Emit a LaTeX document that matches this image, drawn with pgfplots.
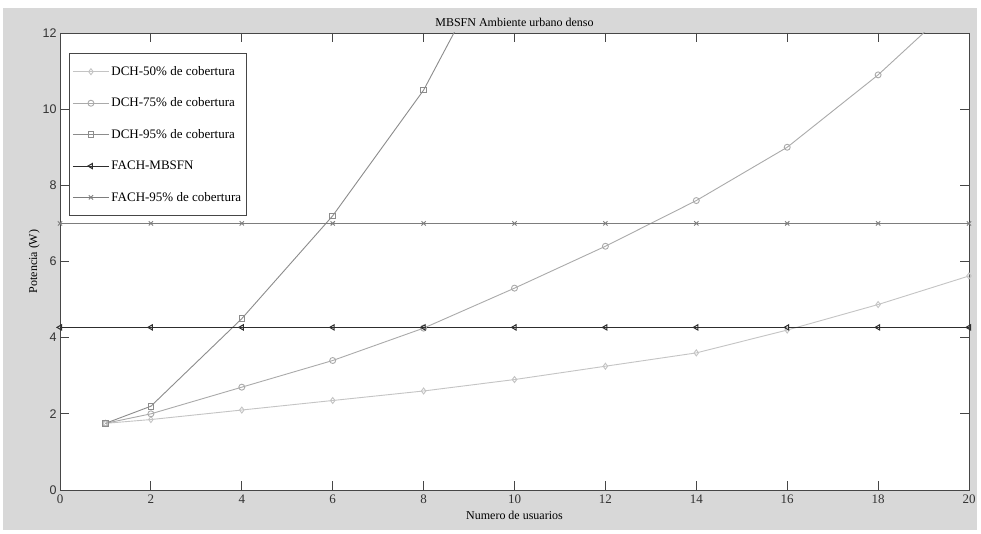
\documentclass[border=0pt]{standalone}
\usepackage{pgfplots}
\pgfplotsset{compat=1.18}
\usepackage{fontspec}
\setmainfont{Liberation Serif}
\newfontfamily\ticksans{Liberation Sans}
\definecolor{bggray}{RGB}{216,216,216}
\definecolor{cA}{RGB}{196,196,196}
\definecolor{cB}{RGB}{170,170,170}
\definecolor{cC}{RGB}{140,140,140}
\definecolor{cD}{RGB}{45,45,45}
\definecolor{cE}{RGB}{125,125,125}
\definecolor{axc}{RGB}{70,70,70}
\begin{document}
\begin{tikzpicture}[x=1pt,y=1pt]
\path[use as bounding box] (0,0) rectangle (981,534);
\fill[bggray] (3,4) rectangle (977,526);
\begin{axis}[
  at={(60pt,44pt)}, anchor=south west,
  scale only axis, width=909pt, height=457pt,
  xmin=0, xmax=20, ymin=0, ymax=12,
  xtick={0,2,...,20}, ytick={0,2,...,12},
  tick align=inside, major tick length=9pt,
  axis line style={axc, line width=0.9pt},
  tick style={axc, line width=0.9pt},
  every x tick label/.append style={font=\fontsize{13}{14}\selectfont, text=black!80, yshift=-1pt},
  every y tick label/.append style={font=\ticksans\fontsize{12.5}{14}\selectfont, text=black!80},
  /pgf/number format/assume math mode=true,
  title={MBSFN Ambiente urbano denso},
  title style={font=\fontsize{12}{13}\selectfont, yshift=-3pt},
  xlabel={Numero de usuarios},
  ylabel={Potencia (W)},
  xlabel style={font=\fontsize{12}{13}\selectfont, yshift=-1pt},
  ylabel style={font=\fontsize{12}{13}\selectfont, yshift=-4pt},
  axis background/.style={fill=white},
  legend cell align=left,
  legend style={at={(9/909, 1-20/457)}, anchor=north west, draw=axc, line width=0.9pt,
    font=\fontsize{13}{14}\selectfont, row sep=17pt, inner xsep=3pt, inner ysep=11pt, fill=white},
  legend image code/.code={\draw[#1] (0pt,0pt) -- (18pt,0pt) (18pt,0pt) -- (36pt,0pt); \draw plot[#1] coordinates {(18pt,0pt)};},
  clip=true,
]
\addplot[cA, line width=0.9pt, mark=diamond, mark size=3pt, mark options={solid}] coordinates {
(1,1.75) (2,1.85) (4,2.1) (6,2.35) (8,2.6) (10,2.9) (12,3.25) (14,3.6) (16,4.2) (18,4.87) (20,5.62)};
\addlegendentry{DCH-50\% de cobertura}
\addplot[cB, line width=0.9pt, mark=o, mark size=3pt] coordinates {
(1,1.75) (2,2.0) (4,2.7) (6,3.4) (8,4.25) (10,5.3) (12,6.4) (14,7.6) (16,9.0) (18,10.9) (20,13.1)};
\addlegendentry{DCH-75\% de cobertura}
\addplot[cC, line width=0.9pt, mark=square, mark size=2.8pt] coordinates {
(1,1.75) (2,2.2) (4,4.5) (6,7.2) (8,10.5) (10,15.0)};
\addlegendentry{DCH-95\% de cobertura}
\addplot[cD, line width=1pt, mark=triangle, mark size=3pt, mark options={rotate=90}] coordinates {
(0,4.27) (2,4.27) (4,4.27) (6,4.27) (8,4.27) (10,4.27) (12,4.27) (14,4.27) (16,4.27) (18,4.27) (20,4.27)};
\addlegendentry{FACH-MBSFN}
\addplot[cE, line width=0.9pt, mark=x, mark size=3pt] coordinates {
(0,7.0) (2,7.0) (4,7.0) (6,7.0) (8,7.0) (10,7.0) (12,7.0) (14,7.0) (16,7.0) (18,7.0) (20,7.0)};
\addlegendentry{FACH-95\% de cobertura}
\end{axis}
\end{tikzpicture}
\end{document}
